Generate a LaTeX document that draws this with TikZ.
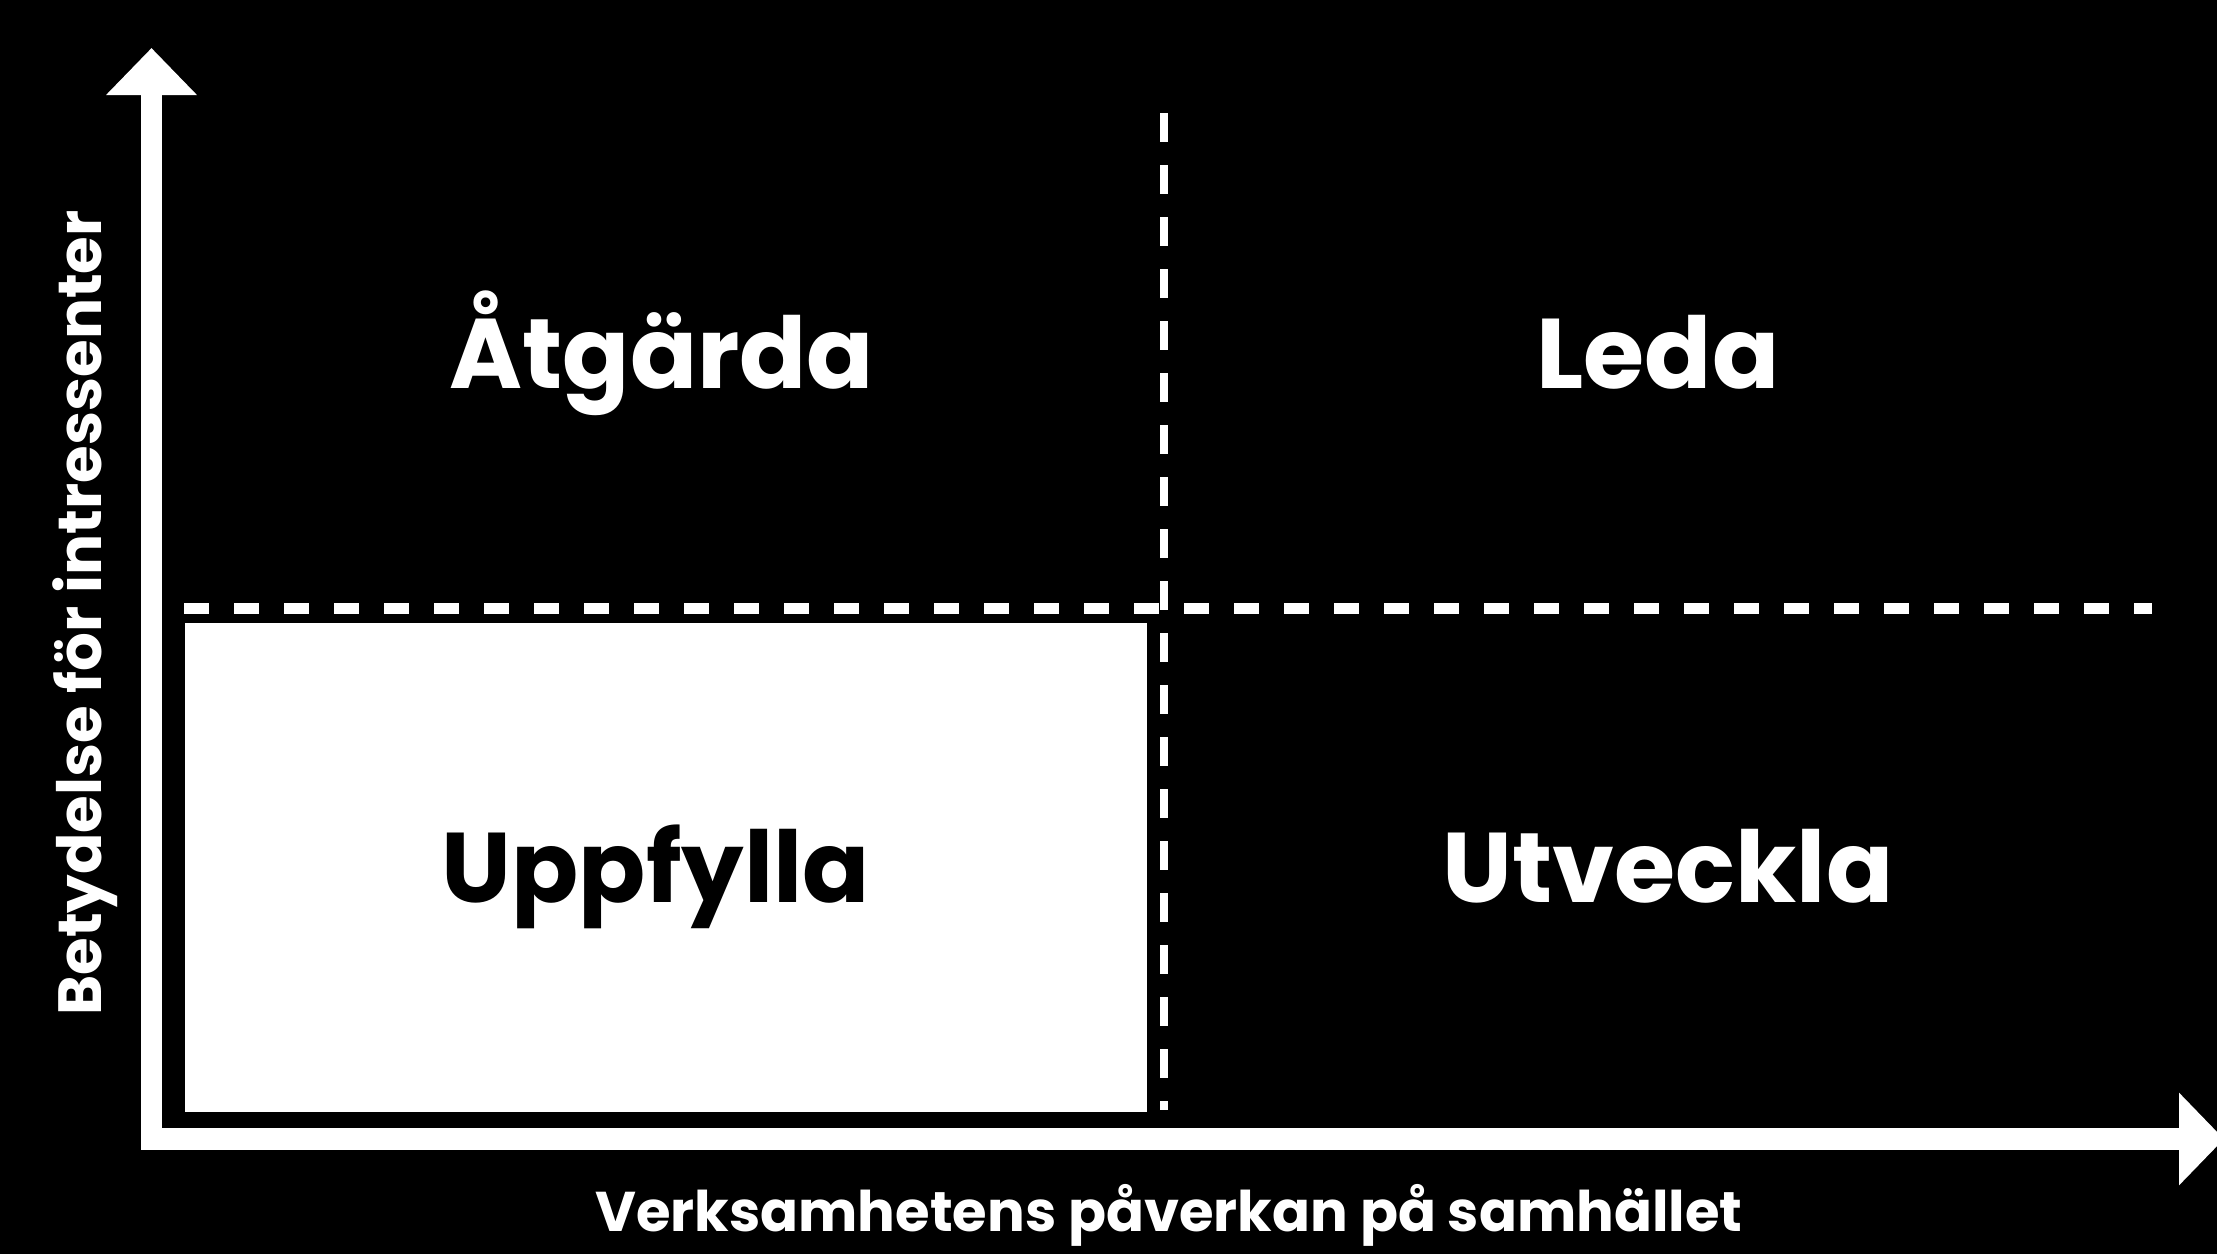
\documentclass[tikz,border=0pt]{standalone}
\usepackage{fontspec}
\setmainfont{Poppins}
\usetikzlibrary{arrows.meta}
\begin{document}
\begin{tikzpicture}[x=1pt,y=-1pt,
  quad/.style={font=\fontsize{99}{99}\selectfont\bfseries, anchor=base, inner sep=0pt},
  axlabel/.style={font=\fontsize{56}{56}\selectfont\bfseries, anchor=base, inner sep=0pt, text=white},
  axisline/.style={draw=white, line width=21.5pt, line join=miter},
  hdash/.style={draw=white, line width=11pt, dash pattern=on 25pt off 25pt},
  vdash/.style={draw=white, line width=8pt, dash pattern=on 29pt off 23pt}]
\useasboundingbox (0,0) rectangle (2217,1254);
\fill[black] (0,0) rectangle (2217,1254);
% white quadrant
\fill[white] (185,623) rectangle (1147,1112);
% dashed dividers
\coordinate (hl) at (184,608);
\coordinate (hr) at (2152,608);
\coordinate (vt) at (1164,113);
\coordinate (vb) at (1164,1110);
\draw[hdash] (hl) -- (hr);
\draw[vdash] (vt) -- (vb);
% axes
\coordinate (ytip) at (151.5,48);
\coordinate (origin) at (151.5,1139);
\coordinate (xtip) at (2224,1139);
\draw[axisline, {Triangle[width=88pt,length=47pt]}-{Triangle[width=90pt,length=45pt]}] (ytip) -- (origin) -- (xtip);
% quadrant labels
\node[quad, text=white] (atg) at (662,388) {Åtgärda};
\node[quad, text=white] (leda) at (1658,388) {Leda};
\node[quad, text=black] (upp) at (656,902) {Uppfylla};
\node[quad, text=white] (utv) at (1668,902) {Utveckla};
% axis labels
\node[axlabel] (xlab) at (1169,1231) {Verksamhetens påverkan på samhället};
\node[axlabel, font=\fontsize{61}{61}\selectfont\bfseries, rotate=90] (ylab) at (101,613) {Betydelse för intressenter};
\end{tikzpicture}
\end{document}
